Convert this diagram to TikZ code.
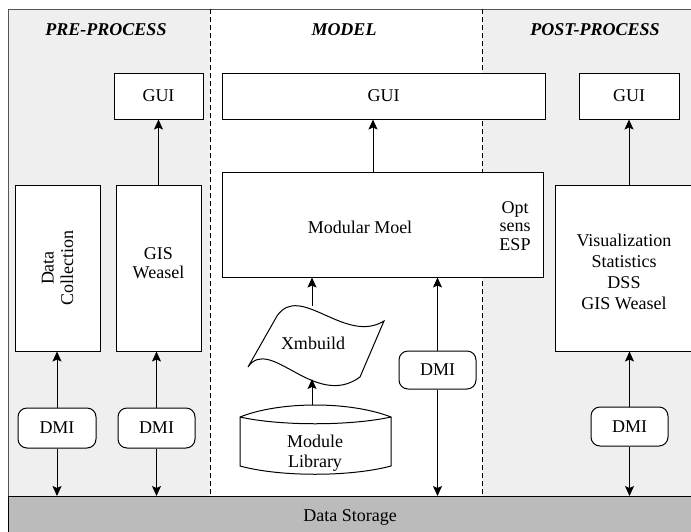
\documentclass[tikz,border=0pt]{standalone}
\usepackage{fontspec}
\setmainfont{Liberation Serif}
\usetikzlibrary{arrows.meta,calc}
\definecolor{panelgray}{HTML}{EFEFEF}
\definecolor{storegray}{HTML}{BBBBBB}
\definecolor{framegray}{HTML}{555555}
\tikzset{
  box/.style={draw=black, fill=white, line width=1pt, inner sep=0pt, align=center},
  dmibox/.style={box, rounded corners=9pt, minimum width=77pt, minimum height=39pt},
  arr/.style={line width=1pt, -{Stealth[length=10pt,width=9pt,inset=2pt]}},
  phase/.style={font=\fontsize{18}{19.5}\selectfont\bfseries\itshape},
  sep/.style={line width=1pt, dash pattern=on 5pt off 3pt},
  lbl/.style={align=center, inner sep=0pt}
}
\begin{document}
\begin{tikzpicture}[x=1pt,y=-1pt,font=\fontsize{18}{19.5}\selectfont]
\useasboundingbox (0,0) rectangle (691,531);
\clip (0,0) rectangle (691,531);

% phase panels
\fill[panelgray] (8,9) rectangle (210,496);
\fill[white] (210,9) rectangle (482,496);
\fill[panelgray] (482,9) rectangle (700,496);
\draw[framegray, line width=1pt] (8,540) -- (8,9) -- (700,9);
\draw[sep] (210,9) -- (210,496);
\draw[sep] (482,9) -- (482,496);

% phase titles
\node[phase] (tpre) at (106,30) {PRE-PROCESS};
\node[phase] (tmod) at (344,30) {MODEL};
\node[phase] (tpost) at (595,30) {POST-PROCESS};

% data storage bar
\node[draw=black, fill=storegray, line width=1pt, minimum width=692pt, minimum height=44pt,
      anchor=north west, inner sep=0pt] (storage) at (8,496) {};
\node[lbl] (storagetxt) at (350,517) {Data Storage};

% GUI boxes
\node[box, minimum width=89pt, minimum height=46pt] (gui1) at (158.5,96) {GUI};
\node[box, minimum width=323pt, minimum height=46pt] (gui2) at (383.5,96) {GUI};
\node[box, minimum width=100pt, minimum height=46pt] (gui3) at (629,96) {GUI};

% pre-process tools
\node[box, minimum width=85pt, minimum height=166pt] (dc) at (57.5,268) {};
\node[lbl, rotate=90] (dctxt) at (57.5,268) {Data\\Collection};
\node[box, minimum width=85pt, minimum height=166pt] (gis) at (158.5,268) {};
\node[lbl] (gistxt) at (158.5,263) {GIS\\Weasel};

% model
\node[box, minimum width=321pt, minimum height=105pt] (mm) at (382.5,224.5) {};
\node[lbl] (mmtxt) at (360,227) {Modular Moel};
\node[lbl, font=\fontsize{18}{18.5}\selectfont] (opttxt) at (515,226) {Opt\\sens\\ESP};

% post-process tools
\node[box, minimum width=145pt, minimum height=166pt] (vis) at (627.5,268) {};
\node[lbl, font=\fontsize{18}{21}\selectfont] (vistxt) at (624,272) {Visualization\\Statistics\\DSS\\GIS Weasel};

% Xmbuild document shape
\draw[line width=1pt, fill=white]
  (277,316) .. controls (300,282) and (345,345) .. (384,321)
  -- (360,377) .. controls (315,410) and (270,335) .. (248,367) -- cycle;
\coordinate (xbtop) at (312,306);
\coordinate (xbbot) at (312,379);
\node[lbl] (xbtxt) at (313,343) {Xmbuild};

% module library drum
\draw[line width=1pt, fill=white]
  (240,417) .. controls (280,401) and (350,401) .. (391,417)
  -- (391,466) .. controls (350,477) and (280,477) .. (240,466) -- cycle;
\draw[line width=1pt] (240,417) .. controls (280,426) and (350,426) .. (391,417);
\coordinate (libtop) at (312,405);
\node[lbl] (libtxt) at (315,453) {Module\\Library};

% DMI interfaces
\node[dmibox, minimum width=78pt, minimum height=40pt] (dmi1) at (57,428) {DMI};
\node[dmibox, minimum height=40pt] (dmi2) at (156.5,428) {DMI};
\node[dmibox, minimum height=38pt] (dmi3) at (437.5,370) {DMI};
\node[dmibox] (dmi4) at (629.5,426.5) {DMI};

% connectors
\draw[arr] (gis.north) -- (gui1.south);
\draw[arr] ([xshift=-9.5pt]mm.north) -- ([xshift=-10.5pt]gui2.south);
\draw[arr] (gui3.south |- vis.north) -- (gui3.south);

\draw[arr] (libtop) -- (xbbot);
\draw[arr] (xbtop) -- (xbtop |- mm.south);

\draw[arr] (dmi1.north) -- (dmi1.north |- dc.south);
\draw[arr] (dmi1.south) -- (dmi1.south |- storage.north);
\draw[arr] (dmi2.north) -- (dmi2.north |- gis.south);
\draw[arr] (dmi2.south) -- (dmi2.south |- storage.north);
\draw[arr] (dmi3.north) -- (dmi3.north |- mm.south);
\draw[arr] (dmi3.south) -- (dmi3.south |- storage.north);
\draw[arr] (dmi4.north) -- (dmi4.north |- vis.south);
\draw[arr] (dmi4.south) -- (dmi4.south |- storage.north);
\end{tikzpicture}
\end{document}
